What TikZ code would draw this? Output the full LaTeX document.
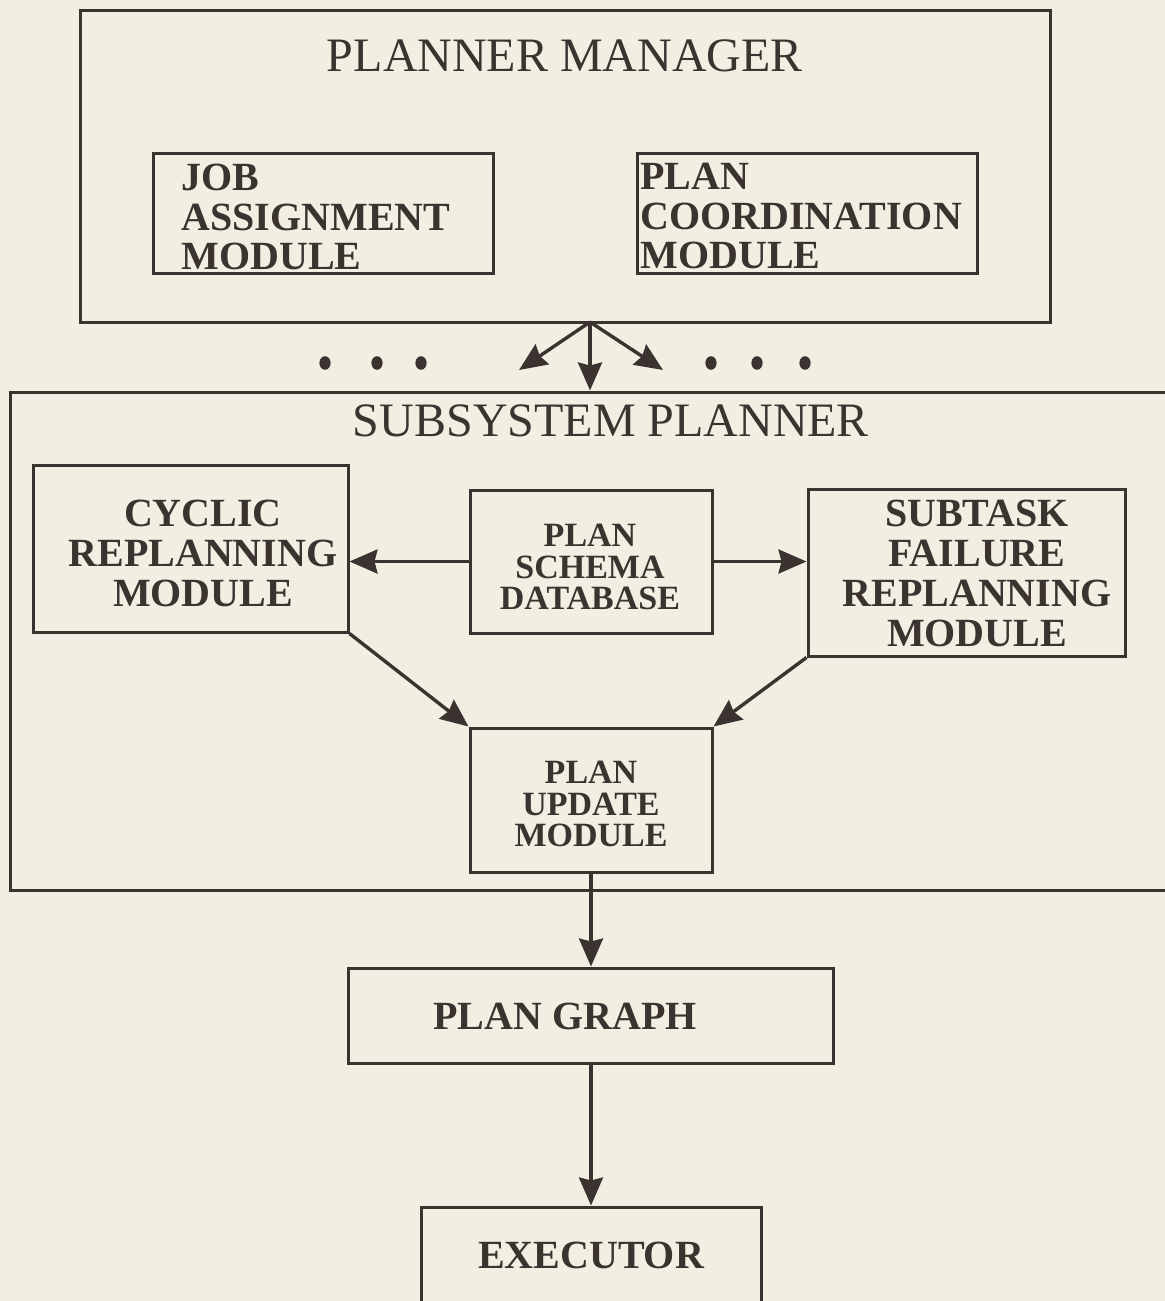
\documentclass[tikz,border=0pt]{standalone}
\usepackage{fontspec}
\setmainfont{Liberation Serif}
\usetikzlibrary{arrows.meta,calc}
\definecolor{paper}{RGB}{242,238,226}
\definecolor{ink}{RGB}{58,51,48}
\begin{document}
\begin{tikzpicture}[x=0.5pt,y=-0.5pt,
  box/.style={draw=ink, line width=1.5pt, inner sep=0pt},
  title/.style={text=ink, inner sep=0pt, font=\fontsize{24pt}{28pt}\selectfont},
  lbl/.style={text=ink, inner sep=0pt, align=center, font=\fontsize{20pt}{20pt}\selectfont\bfseries},
  lblleft/.style={text=ink, inner sep=0pt, align=left, font=\fontsize{20pt}{19.75pt}\selectfont\bfseries},
  lblsm/.style={text=ink, inner sep=0pt, align=center, font=\fontsize{17pt}{15.75pt}\selectfont\bfseries},
  link/.style={draw=ink, line width=1.7pt, -{Stealth[length=14pt,width=12pt,inset=1.5pt]}},
  dot/.style={fill=ink},
]
\useasboundingbox (0,0) rectangle (1165,1301);
\clip (0,0) rectangle (1165,1301);
\fill[paper] (0,0) rectangle (1165,1301);

% planner manager with its two modules
\node[box, minimum width=485pt, minimum height=156pt] (pm) at (565,166) {};
\node[title] (pmtitle) at (565,56) {PLANNER MANAGER};
\node[box, minimum width=170pt, minimum height=60pt] (job) at (323,213) {};
\node[lblleft, anchor=west] (jobtxt) at (181,217) {JOB\\ASSIGNMENT\\MODULE};
\node[box, minimum width=170pt, minimum height=60pt] (coord) at (807,213) {};
\node[lblleft, anchor=west] (coordtxt) at (640,216) {PLAN\\COORDINATION\\MODULE};

% subsystem planner (extends past the right edge)
\node[box, minimum width=585pt, minimum height=249pt] (sp) at (595,641) {};
\node[title] (sptitle) at (611,421) {SUBSYSTEM PLANNER};

\node[box, minimum width=157.5pt, minimum height=83.5pt] (cyc) at (190.5,548.5) {};
\node[lbl] (cyctxt) at (203,553) {CYCLIC\\REPLANNING\\MODULE};
\node[box, minimum width=121pt, minimum height=71.5pt] (schema) at (591,561.5) {};
\node[lblsm] (schematxt) at (590,567) {PLAN\\SCHEMA\\DATABASE};
\node[box, minimum width=158.5pt, minimum height=83.5pt] (sub) at (966.5,572.5) {};
\node[lbl] (subtxt) at (977,573) {SUBTASK\\FAILURE\\REPLANNING\\MODULE};
\node[box, minimum width=121pt, minimum height=72pt] (upd) at (591,800) {};
\node[lblsm] (updtxt) at (591,804) {PLAN\\UPDATE\\MODULE};

% lower chain
\node[box, minimum width=242.5pt, minimum height=47.5pt] (graph) at (590.5,1015.5) {};
\node[lbl] (graphtxt) at (565,1016) {PLAN GRAPH};
\node[box, minimum width=170pt, minimum height=56.5pt] (exec) at (591,1263.5) {};
\node[lbl] (exectxt) at (591,1255) {EXECUTOR};

% fan-out from the planner manager
\coordinate (fan) at (590,322);
\coordinate (fanl) at (519,370);
\coordinate (fanr) at (663,370);
\draw[link] (fan) -- (fanl);
\draw[link] (fan) -- (fan |- sp.north);
\draw[link] (fan) -- (fanr);

% ellipsis dots for further subsystem planners
\foreach \x in {325,377,421,711,757,805}
  \fill[dot] (\x,363) ellipse (2.8pt and 3.4pt);

% connections inside the subsystem planner
\draw[link] (schema.west) -- (schema.west -| cyc.east);
\draw[link] (schema.east) -- (schema.east -| sub.west);
\draw[link] (cyc.south east) -- (upd.north west);
\draw[link] (sub.south west) -- (upd.north east);

% update -> graph -> executor
\draw[link] (upd.south) -- (upd.south |- graph.north);
\draw[link] (graph.south -| exec.north) -- (exec.north);
\end{tikzpicture}
\end{document}
